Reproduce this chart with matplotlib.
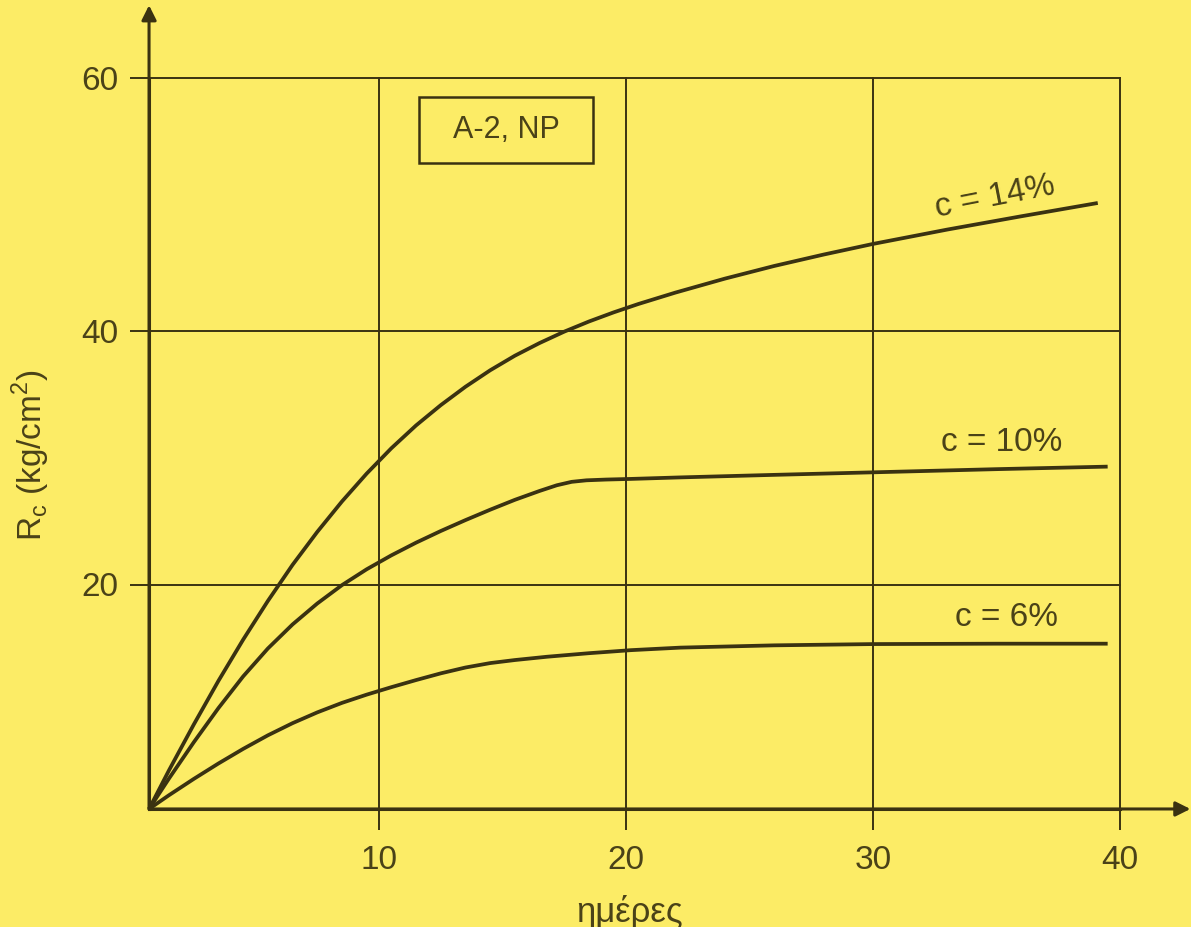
import matplotlib
matplotlib.use("Agg")
import matplotlib.pyplot as plt
from matplotlib.patches import Rectangle

plt.rcParams['font.family'] = ['Liberation Sans', 'DejaVu Sans']

BG = '#fcec66'
LINE = '#3a3211'
TXT = '#4a4218'

# Καμπύλες αντοχής Rc (kg/cm2) ανά ημέρες, για κάθε ποσοστό τσιμέντου
days_14 = [0.69, 1.5, 2.5, 3.5, 4.5, 5.5, 6.5, 7.5, 8.5, 9.5, 10.5, 11.5, 12.5, 13.5, 14.5, 15.5,
           16.5, 17.5, 18.5, 19.5, 20.5, 22, 24, 26, 28, 30, 33, 36, 39.1]
rc_14 = [2.29, 5.35, 8.95, 12.4, 15.65, 18.7, 21.55, 24.15, 26.55, 28.75, 30.75, 32.55, 34.15, 35.6, 36.9, 38.05,
         39.05, 39.95, 40.75, 41.47, 42.13, 43.03, 44.13, 45.13, 46.03, 46.87, 48.0, 49.05, 50.1]

days_10 = [0.69, 1.5, 2.5, 3.5, 4.5, 5.5, 6.5, 7.5, 8.5, 9.5, 10.5, 11.5, 12.5, 13.5, 14.5, 15.5,
           16.5, 17.2, 17.8, 18.4, 19.2, 20.2, 22.2, 26, 30, 35, 39.5]
rc_10 = [2.29, 4.7, 7.55, 10.25, 12.75, 14.95, 16.85, 18.5, 19.95, 21.2, 22.3, 23.3, 24.22, 25.08, 25.9, 26.68,
         27.38, 27.83, 28.1, 28.22, 28.28, 28.33, 28.45, 28.65, 28.85, 29.1, 29.3]

days_6 = [0.69, 1.5, 2.5, 3.5, 4.5, 5.5, 6.5, 7.5, 8.5, 9.5, 10.5, 11.5, 12.5, 13.5, 14.5, 15.5,
          16.8, 18.5, 20.2, 22.2, 26, 30, 35, 39.5]
rc_6 = [2.29, 3.38, 4.66, 5.88, 7.03, 8.1, 9.06, 9.91, 10.66, 11.31, 11.9, 12.46, 12.99, 13.45, 13.8, 14.04,
        14.3, 14.58, 14.82, 15.02, 15.2, 15.3, 15.33, 15.33]

series = [(days_14, rc_14), (days_10, rc_10), (days_6, rc_6)]

x_ticks = [10, 20, 30, 40]
y_ticks = [20, 40, 60]

W, H = 1191, 927


def px_x(x):
    return 132 + 24.7 * x


def px_y(y):
    return 838 - 12.675 * y


x0, x1 = 0.69, 40.0
y0, y1 = 2.29, 60.0

fig = plt.figure(figsize=(W / 100, H / 100), dpi=100, facecolor=BG)
ax_l, ax_r = px_x(x0), px_x(x1)
ax_b, ax_t = px_y(y0), px_y(y1)
ax = fig.add_axes([ax_l / W, 1 - ax_b / H, (ax_r - ax_l) / W, (ax_b - ax_t) / H])
ax.set_facecolor(BG)
ax.set_xlim(x0, x1)
ax.set_ylim(y0, y1)

for s in ['top', 'right']:
    ax.spines[s].set_visible(False)
for s in ['left', 'bottom']:
    ax.spines[s].set_color(LINE)
    ax.spines[s].set_linewidth(2.2)

ax.set_xticks(x_ticks)
ax.set_yticks(y_ticks)
ax.tick_params(axis='x', length=15, width=1.4, color=LINE, labelsize=24, labelcolor=TXT, pad=11)
ax.tick_params(axis='y', length=14, width=1.4, color=LINE, labelsize=24, labelcolor=TXT, pad=8)

# πλέγμα μέχρι τα 40 / 60
for xv in x_ticks:
    ax.axvline(xv, color=LINE, lw=1.4, clip_on=False, zorder=1)
for yv in y_ticks:
    ax.axhline(yv, color=LINE, lw=1.4, clip_on=False, zorder=1)

# βέλη αξόνων
arrow = dict(arrowstyle='-|>', color=LINE, lw=2.2, mutation_scale=22, shrinkA=0, shrinkB=0)
ax.annotate('', xy=(x0, 65.7), xytext=(x0, y0), arrowprops=arrow, annotation_clip=False)
ax.annotate('', xy=(42.85, y0), xytext=(x0, y0), arrowprops=arrow, annotation_clip=False)

for xs, ys in series:
    ax.plot(xs, ys, color=LINE, lw=2.7, solid_joinstyle='round', solid_capstyle='butt', clip_on=False, zorder=2)

ax.text(34.94, 50.57, 'c = 14%', fontsize=24, color=TXT, rotation=11, ha='center', va='center')
ax.text(35.2, 31.2, 'c = 10%', fontsize=24, color=TXT, ha='center', va='center')
ax.text(35.4, 17.4, 'c = 6%', fontsize=24, color=TXT, ha='center', va='center')

ax.add_patch(Rectangle((11.62, 53.25), 7.04, 5.21, fill=False, ec=LINE, lw=1.8, zorder=3))
ax.text(15.14, 55.86, 'A-2, NP', fontsize=22, color=TXT, ha='center', va='center', zorder=3)

ax_w, ax_h = ax_r - ax_l, ax_b - ax_t
ax.set_ylabel(r'R$_\mathregular{c}$ (kg/cm$^\mathregular{2}$)', fontsize=24, color=TXT, va='center')
ax.yaxis.set_label_coords((31 - ax_l) / ax_w, (ax_b - 455) / ax_h)
ax.set_xlabel('ημέρες', fontsize=25, color=TXT, va='center')
ax.xaxis.set_label_coords((630 - ax_l) / ax_w, (ax_b - 912) / ax_h)

fig.savefig('out.png', dpi=100, facecolor=BG)
